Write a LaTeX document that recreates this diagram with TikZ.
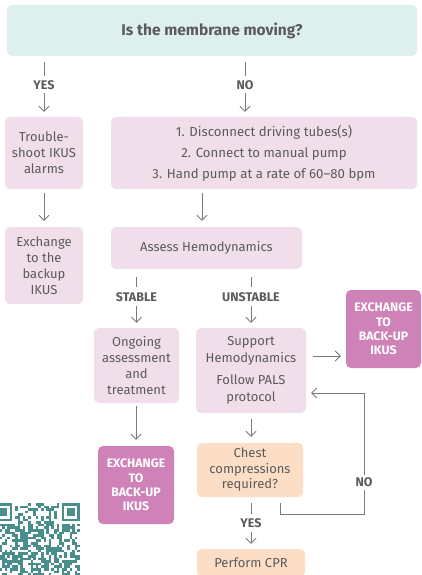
\documentclass[tikz,border=0pt]{standalone}
\usepackage{fontspec}
\setmainfont{Fira Sans}
\usetikzlibrary{arrows.meta}
\definecolor{tealbg}{HTML}{DDF0EE}
\definecolor{pinkbg}{HTML}{F0DEEA}
\definecolor{peachbg}{HTML}{FCDEC6}
\definecolor{magbg}{HTML}{CE82B8}
\definecolor{txt}{HTML}{5B5B5B}
\definecolor{ln}{HTML}{7A7A7A}
\definecolor{qrc}{HTML}{4A8E8B}
\begin{document}
\begin{tikzpicture}[x=1pt,y=-1pt,
  box/.style={rounded corners=5pt, fill=pinkbg, text=txt, align=center, inner sep=0pt,
    font=\fontsize{13}{16}\selectfont},
  exch/.style={box, fill=magbg, text=white, font=\bfseries\fontsize{12.3}{14.4}\selectfont},
  lbl/.style={fill=white, text=txt, inner xsep=2pt, inner ysep=4pt, font=\bfseries\fontsize{12.5}{14}\selectfont},
  arr/.style={draw=ln, line width=0.9pt, -{Straight Barb[length=5pt,width=10pt]}},
  ln/.style={draw=ln, line width=0.9pt}
]
\useasboundingbox (0,0) rectangle (421,575);
\begin{scope}
\clip (0,0) rectangle (421,575);
% nodes
\node[box, fill=tealbg, minimum width=410pt, minimum height=51pt,
  font=\bfseries\fontsize{15.5}{18}\selectfont] (top) at (212,30.5) {Is the membrane moving?};
\node[box, minimum width=78pt, minimum height=72pt] (trouble) at (44,153) {Trouble-\\shoot IKUS\\alarms};
\node[box, minimum width=306pt, minimum height=72pt, font=\fontsize{13.2}{21}\selectfont] (big) at (264,153)
  {1. Disconnect driving tubes(s)\\2. Connect to manual pump\\3. Hand pump at a rate of 60--80 bpm};
\node[box, minimum width=78pt, minimum height=77pt] (backup) at (44,265.5) {Exchange\\to the\\backup\\IKUS};
\node[box, minimum width=191pt, minimum height=42pt] (assess) at (206.5,248) {Assess Hemodynamics};
\node[box, minimum width=85pt, minimum height=75pt, font=\fontsize{13}{15.7}\selectfont] (ongoing) at (136.5,365.5)
  {Ongoing\\assessment\\and\\treatment};
\node[box, minimum width=110pt, minimum height=85pt, font=\fontsize{13}{16.5}\selectfont] (support) at (251,370.5)
  {Support\\Hemodynamics\\[6pt]Follow PALS\\protocol};
\node[exch, minimum width=75pt, minimum height=78pt] (exr) at (383.5,329) {EXCHANGE\\TO\\BACK-UP\\IKUS};
\node[exch, minimum width=76pt, minimum height=78pt] (exb) at (136,485) {EXCHANGE\\TO\\BACK-UP\\IKUS};
\node[box, fill=peachbg, minimum width=106pt, minimum height=54pt, font=\fontsize{13}{15.5}\selectfont] (chest) at (250,470)
  {Chest\\compressions\\required?};
\node[box, fill=peachbg, minimum width=108pt, minimum height=28pt] (cpr) at (251,563) {Perform CPR};

% connectors
\draw[arr, shorten <=6pt, shorten >=5pt] (top.south -| trouble.north) -- node[lbl, pos=0.47] {YES} (trouble.north);
\draw[arr, shorten <=6pt, shorten >=5pt] (top.south -| 245,0) -- node[lbl, pos=0.47] {NO} (big.north -| 245,0);
\draw[arr, shorten <=4pt, shorten >=6pt] (trouble.south) -- (backup.north);
\draw[arr, shorten <=4pt, shorten >=6pt] (big.south -| 202,0) -- (assess.north -| 202,0);
\draw[arr, shorten <=8pt, shorten >=5pt] (assess.south -| ongoing.north) -- node[lbl, pos=0.47, inner ysep=5pt] {STABLE} (ongoing.north);
\draw[arr, shorten <=8pt, shorten >=5pt] (assess.south -| support.north) -- node[lbl, pos=0.47, inner ysep=5pt] {UNSTABLE} (support.north);
\draw[arr, shorten <=7pt, shorten >=5pt] ([yshift=14.5pt]support.east) -- ([yshift=14.5pt]support.east -| exr.west);
\draw[arr, shorten <=3pt, shorten >=6pt] (ongoing.south -| exb.north) -- (exb.north);
\draw[arr, shorten <=6pt, shorten >=6pt] (support.south) -- (chest.north -| support.south);
\draw[arr, shorten <=6pt, shorten >=5pt] (chest.south -| cpr.north) -- node[lbl, pos=0.5] {YES} (cpr.north);
\coordinate (sup2) at ([yshift=-22.5pt]support.east);
\coordinate (loopc) at (364,514);
\draw[arr, shorten >=5pt] ([xshift=30pt,yshift=-6pt]chest.south) |- (loopc)
  -- node[lbl, pos=0.26, inner ysep=3pt] {NO} (loopc |- sup2) -- (sup2);

% QR code (decorative)
\pgfmathsetseed{7}
\foreach \i in {0,...,32}{
  \foreach \j in {0,...,27}{
    \pgfmathrandominteger{\r}{0}{1}
    \ifnum\r=1
      \fill[qrc] ({80-(\i+1)*2.6},{503+\j*2.6}) rectangle ++(2.65,2.65);
    \fi
  }
}
\foreach \fx in {61.8,-5.8}{
  \fill[white] (\fx-2.6,503-2.6) rectangle ++(23.4,23.4);
  \fill[qrc] (\fx,503) rectangle ++(18.2,18.2);
  \fill[white] (\fx+2.6,505.6) rectangle ++(13,13);
  \fill[qrc] (\fx+5.2,508.2) rectangle ++(7.8,7.8);
}
\fill[white] (80,500) rectangle (90,575);
\fill[white] (-10,495) rectangle (90,503);
\end{scope}
\end{tikzpicture}
\end{document}
